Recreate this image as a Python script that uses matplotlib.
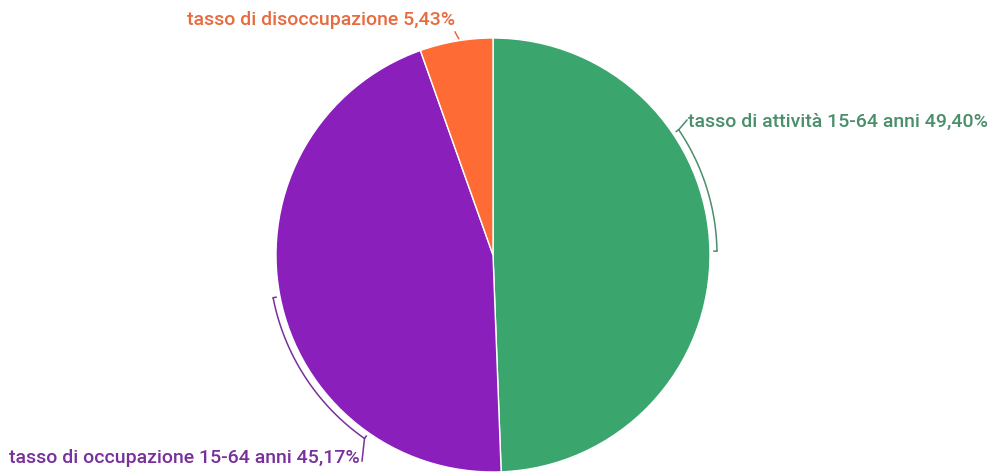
import numpy as np
import matplotlib.pyplot as plt

# tassi 15-64 anni
labels = ['tasso di attività 15-64 anni', 'tasso di occupazione 15-64 anni', 'tasso di disoccupazione']
values = [49.40, 45.17, 5.43]
value_text = ['49,40%', '45,17%', '5,43%']

colors = ['#3ba56e', '#8a1fbb', '#ff6b35']
text_colors = ['#4a8e6b', '#78309c', '#e86a3e']

W, H = 993, 475
cx, cy, R = 493, 220, 217

plt.rcParams['font.family'] = ['Roboto', 'DejaVu Sans']
FS = 14.0

fig = plt.figure(figsize=(W / 100, H / 100), dpi=100)
ax = fig.add_axes([0, 0, 1, 1])

ax.pie(values, colors=colors, startangle=90, counterclock=False,
       center=(cx, cy), radius=R, frame=True,
       wedgeprops=dict(edgecolor='white', linewidth=1))
ax.set_xlim(0, W)
ax.set_ylim(0, H)
ax.set_aspect('equal')
ax.axis('off')


def polar(ang, r):
    a = np.deg2rad(ang)
    return cx + r * np.cos(a), cy + r * np.sin(a)


def bracket(a0, a1, col, rb=R + 7, hook=3):
    t = np.linspace(a0, a1, 60)
    x, y = polar(t, rb)
    ax.plot(x, y, color=col, lw=1.1, solid_capstyle='butt')
    for a in (a0, a1):
        x0, y0 = polar(a, rb)
        x1, y1 = polar(a, rb - hook)
        ax.plot([x0, x1], [y0, y1], color=col, lw=1.1)


# attività: bracket on the right, label up top
bracket(1, 34, text_colors[0])
px, py = polar(34, R + 7)
ax.plot([px, 687], [py, 355], color=text_colors[0], lw=1.1)
ax.text(688, 353, f'{labels[0]} {value_text[0]}', color=text_colors[0],
        fontsize=FS, fontweight='medium', ha='left', va='center')

# occupazione: bracket on the lower left
bracket(191, 235, text_colors[1])
px, py = polar(235, R + 7)
ax.plot([px, 362], [py, 14], color=text_colors[1], lw=1.1)
ax.text(360, 17, f'{labels[1]} {value_text[1]}', color=text_colors[1],
        fontsize=FS, fontweight='medium', ha='right', va='center')

# disoccupazione: short leader above the slice
px, py = polar(99, R + 2)
ax.plot([px, 455], [py, 443], color=text_colors[2], lw=1.1)
ax.text(455, 455, f'{labels[2]} {value_text[2]}', color=text_colors[2],
        fontsize=FS, fontweight='medium', ha='right', va='center')

fig.savefig('out.png', dpi=100, facecolor='white')
